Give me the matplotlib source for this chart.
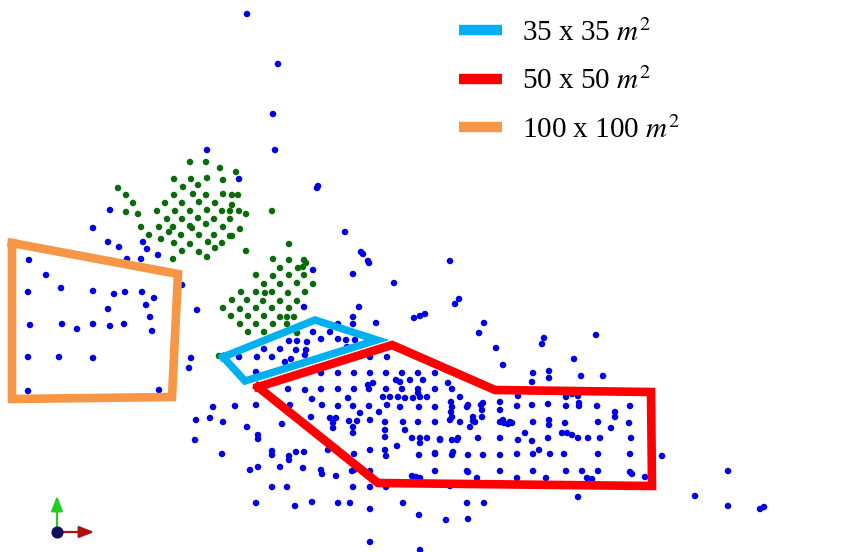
import matplotlib
matplotlib.use("Agg")
import matplotlib.pyplot as plt
from matplotlib.lines import Line2D
import numpy as np

plt.rcParams["mathtext.fontset"] = "stix"

# Survey stations (pixel-plane coordinates of the plan view)
blue_pts = [
    (247,14),(278,64),(273,114),(275,150),(318,186),(317,188),(207,150),(239,179),
    (110,210),(93,228),(108,242),(119,247),(143,242),(147,249),(127,259),(141,259),
    (158,255),(345,232),(361,252),(363,254),(368,261),(369,263),(353,274),(313,270),
    (29,260),(46,275),(394,283),(450,261),(455,304),(459,299),(414,318),(420,316),
    (425,314),(479,333),(484,323),(359,307),(353,317),(353,324),(376,323),(304,307),
    (197,310),(182,285),
    # inside / near the small polygon
    (313,332),(321,339),(330,332),(338,339),(338,324),(346,340),(347,347),(355,340),
    (289,341),(297,341),(307,342),(306,350),(305,355),(280,349),(272,357),(264,349),
    (257,357),(296,350),(291,359),(285,362),(256,372),(239,357),
    # west block
    (28,292),(61,288),(93,291),(114,294),(125,292),(142,292),(154,298),(146,305),
    (108,309),(150,317),(152,331),(30,325),(62,324),(77,329),(93,324),(110,326),
    (124,324),(28,357),(59,357),(93,358),(28,391),(159,390),(191,358),(189,368),
    # south-west scatter
    (213,407),(235,406),(256,405),(196,420),(210,418),(223,422),(247,427),(282,424),
    (258,435),(258,439),(195,440),(222,454),(272,451),(272,455),(289,456),(289,460),
    (296,452),(304,452),(321,470),(322,474),(303,468),(280,467),(258,467),(250,470),
    (336,476),(272,487),(287,487),(256,503),(295,506),(312,502),(338,503),(350,503),
    (370,509),(403,503),(370,542),(420,550),(419,515),(446,520),(467,503),(484,503),
    (468,519),(578,497),
    # east scatter
    (496,348),(503,365),(542,344),(544,338),(596,335),(574,359),(581,376),(603,376),
    (533,373),(532,382),(549,371),(549,378),(662,456),(728,471),(695,496),(728,506),
    (760,509),(764,507),
    # large polygon, west part
    (288,389),(305,390),(321,389),(312,399),(322,405),(290,405),(311,417),
    (321,373),(338,373),(354,373),(370,373),(386,373),(402,373),(418,373),(435,373),
    (370,357),(387,357),(396,380),(400,382),(410,380),(423,380),(448,383),(373,383),
    (368,385),(338,389),(354,389),(369,389),(386,389),(402,389),(418,389),(418,393),
    (435,389),(452,389),(348,398),(383,397),(390,397),(398,397),(405,398),(413,398),
    (420,397),(427,397),(460,397),(338,406),(353,406),(369,406),(387,405),(400,407),
    (419,407),(435,407),(452,407),(451,402),(451,412),(468,405),(483,403),(482,410),
    (360,413),(379,412),(333,423),(330,418),(336,418),(333,428),(353,427),(349,421),
    (357,421),(353,433),(370,420),(385,422),(403,422),(418,422),(435,422),(450,420),
    (460,422),(475,422),(452,417),(482,417),(385,430),(385,437),(405,430),(412,438),
    (427,438),(440,440),(457,440),(397,446),(328,450),(337,450),(354,454),(370,450),
    (385,450),(420,443),(435,453),(453,452),(386,456),(419,455),(468,455),(483,455),
    (500,455),(354,470),(352,471),(370,471),(435,471),(467,471),(500,471),(477,478),
    (517,478),(412,476),(416,477),(420,478),(353,487),(370,487),(386,487),(450,486),
    # large polygon, east part
    (518,396),(517,406),(500,402),(500,410),(532,405),(548,404),(566,406),(579,406),
    (597,406),(630,406),(615,412),(615,417),(611,428),(629,423),(598,422),(565,423),
    (549,420),(549,425),(533,422),(504,423),(508,424),(512,423),(500,422),(467,407),
    (473,417),(481,405),(470,427),(473,421),(566,397),(572,394),(578,396),(579,403),
    (503,420),(510,422),(420,438),(440,439),(452,440),(458,438),(478,438),(500,438),
    (518,440),(525,433),(532,441),(548,438),(562,433),(567,433),(572,435),(578,438),
    (588,438),(600,438),(631,438),(539,450),(435,454),(452,455),(517,454),(533,454),
    (550,454),(564,454),(598,454),(630,454),(468,472),(533,471),(566,471),(582,471),
    (598,471),(630,472),(632,474),(546,478),(587,478),(592,479),(645,477),
]

green_pts = [
    (118,188),(126,195),(133,203),(126,212),(138,214),(141,227),(149,235),(161,239),
    (173,259),(182,251),(174,243),(169,232),(159,227),(157,211),(165,203),(174,195),
    (174,179),(183,187),(190,162),(206,162),(191,179),(198,185),(193,194),(207,178),
    (220,168),(223,180),(236,172),(206,195),(223,194),(232,195),(238,195),(182,203),
    (199,202),(215,203),(232,205),(175,211),(190,211),(207,210),(222,211),(230,211),
    (239,211),(246,214),(167,219),(182,219),(198,218),(214,219),(230,219),(173,227),
    (190,226),(192,228),(206,224),(223,227),(240,229),(181,235),(199,235),(214,235),
    (230,236),(232,236),(190,244),(208,242),(222,243),(215,248),(199,252),(207,257),
    (246,251),(272,211),
    (289,244),(273,259),(289,260),(280,268),(298,268),(304,260),(303,267),(306,263),
    (256,275),(273,276),(289,275),(304,275),(313,284),(297,283),(280,284),(264,284),
    (265,293),(272,292),(256,292),(241,292),(288,293),(305,292),(232,300),(247,300),
    (263,301),(280,301),(297,301),(223,308),(240,309),(256,308),(272,308),(289,308),
    (231,316),(248,316),(264,316),(280,317),(287,317),(294,317),(240,324),(256,324),
    (273,324),(287,324),(248,332),(264,332),(297,333),(219,356),
]

# Study-area outlines
area_35_x = [223, 315, 377, 245, 223]
area_35_y = [357, 320, 340, 381, 357]
area_50_x = [258, 392, 495, 651, 652, 378, 258]
area_50_y = [387, 345, 390, 392, 486, 483, 387]
area_100_x = [12, 178, 172, 12, 12]
area_100_y = [243, 274, 397, 399, 243]

labels = [r"35 x 35 $m^2$", r"50 x 50 $m^2$", r"100 x 100 $m^2$"]
colors = ["#00b0f0", "#ff0000", "#f79646"]

W, H = 843, 552
fig = plt.figure(figsize=(W / 100, H / 100), dpi=100)
ax = fig.add_axes([0, 0, 1, 1])
ax.set_xlim(0, W)
ax.set_ylim(H, 0)
ax.axis("off")

bx, by = zip(*blue_pts)
gx, gy = zip(*green_pts)
ax.scatter(bx, by, s=22, color="#0000e6", edgecolors="none", zorder=2)
ax.scatter(gx, gy, s=22, color="#0b6b0b", edgecolors="none", zorder=2)

ax.plot(area_100_x, area_100_y, color=colors[2], lw=6.2, solid_joinstyle="miter", zorder=3)
ax.plot(area_50_x, area_50_y, color=colors[1], lw=6.2, solid_joinstyle="miter", zorder=3)
ax.plot(area_35_x, area_35_y, color=colors[0], lw=5.4, solid_joinstyle="miter", zorder=3)

handles = [Line2D([0], [0], color=c, lw=7.5, solid_capstyle="butt") for c in colors]
leg = ax.legend(handles, labels, loc="upper left", bbox_to_anchor=(459, 19),
                bbox_transform=ax.transData, frameon=False, borderpad=0,
                borderaxespad=0, handlelength=1.47, handletextpad=0.68,
                labelspacing=0.71, prop={"family": "Liberation Serif", "size": 21})

# Orientation triad
ox, oy = 57, 532
ax.annotate("", xy=(97, oy), xytext=(ox, oy),
            arrowprops=dict(arrowstyle="-|>,head_length=0.9,head_width=0.35",
                            color="#b01010", lw=1.6), zorder=4)
ax.annotate("", xy=(ox, 493), xytext=(ox, oy),
            arrowprops=dict(arrowstyle="-|>,head_length=0.9,head_width=0.35",
                            color="#22cc22", lw=1.6), zorder=4)
ax.scatter([ox], [oy], s=60, color="#101060", zorder=5)

fig.savefig("out.png", dpi=100)
